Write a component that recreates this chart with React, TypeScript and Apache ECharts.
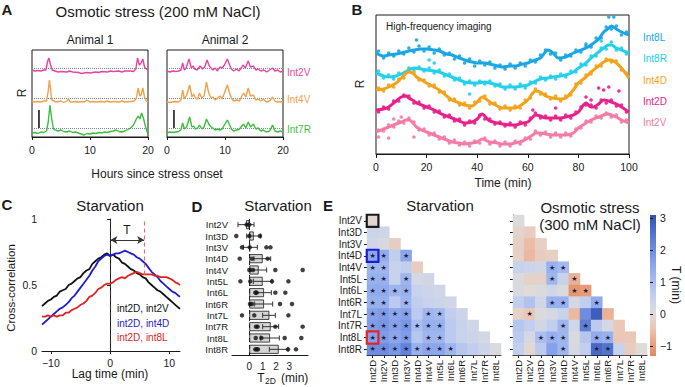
import React, { useEffect, useRef } from 'react';
import * as echarts from 'echarts';

const FONT = '"Liberation Sans", Arial, Helvetica, sans-serif';
const INK = '#1a1a1a';

// ---------------- Panel A ----------------
const A_X_TICKS = [0, 10, 20];
const A_TRACE_NAMES = ['Int2V', 'Int4V', 'Int7R'];
const A_TRACE_COLORS = ['#e8449c', '#f0a24a', '#3cbf3c'];
const A_BASELINES = [6.9, 3.9, 0.9];
const A1_INT2V = [[0,6.7],[0.5,6.6],[1,6.65],[1.5,6.6],[2,6.7],[2.4,6.7],[2.7,7.6],[2.9,7.9],[3.2,7.2],[3.5,6.7],[4,6.6],[4.5,6.5],[5,6.55],[6,6.5],[6.5,6.6],[7,6.5],[8,6.45],[8.5,6.35],[9,6.4],[9.5,6.45],[10,6.4],[11,6.5],[11.5,6.45],[12,6.55],[13,6.5],[13.5,6.6],[14,6.55],[15,6.6],[15.5,6.5],[16,6.6],[17,6.6],[17.5,6.55],[17.9,6.8],[18.2,7.9],[18.5,7.2],[18.8,7.4],[19.1,7.8],[19.4,7.0],[19.7,6.8],[20,6.7]];
const A1_INT4V = [[0,3.6],[0.5,3.5],[1,3.55],[1.5,3.5],[2,3.6],[2.5,3.6],[2.8,4.6],[3.0,5.7],[3.2,4.8],[3.4,3.7],[3.8,3.6],[4.2,3.5],[5,3.6],[5.5,3.45],[6,3.6],[6.3,3.8],[6.6,3.5],[7,3.5],[7.5,3.55],[8,3.5],[8.5,3.55],[9,3.5],[9.5,3.7],[10,3.5],[10.5,3.55],[11,3.5],[12,3.55],[12.5,3.5],[13,3.6],[13.5,3.5],[14,3.55],[15,3.5],[15.5,3.6],[16,3.5],[17,3.55],[17.6,3.6],[18,3.9],[18.3,4.9],[18.6,4.1],[18.8,4.2],[19.1,4.9],[19.4,4.0],[19.7,3.6],[20,3.5]];
const A1_INT7R = [[0,0.4],[0.5,0.45],[1,0.35],[1.5,0.5],[2,0.45],[2.5,0.6],[2.8,1.5],[3.1,3.2],[3.4,1.8],[3.7,0.8],[4,0.7],[4.5,0.6],[5,0.7],[5.5,0.55],[6,0.5],[6.5,0.6],[7,0.45],[7.5,0.5],[8,0.4],[8.5,0.3],[9,0.2],[9.5,0.35],[10,0.3],[10.5,0.4],[11,0.35],[11.5,0.45],[12,0.4],[12.5,0.5],[13,0.45],[13.5,0.55],[14,0.6],[14.5,0.7],[15,0.55],[15.5,0.5],[16,0.6],[16.5,0.75],[17,0.9],[17.5,1.2],[17.9,1.7],[18.3,2.1],[18.6,1.8],[18.9,2.4],[19.2,1.9],[19.5,1.2],[19.8,0.6],[20,0.3]];
const A2_INT2V = [[0,6.6],[0.5,6.5],[1,6.6],[1.5,6.55],[2,6.6],[2.4,6.7],[2.7,7.4],[3.0,6.7],[3.3,6.9],[3.8,7.8],[4.2,6.9],[4.5,7.1],[4.8,6.8],[5.2,6.7],[5.7,7.1],[6.1,6.8],[6.5,7.0],[6.9,7.7],[7.3,7.1],[7.6,6.9],[7.9,6.7],[8.3,6.9],[8.7,6.6],[9.1,7.0],[9.5,6.9],[9.9,7.2],[10.4,7.8],[10.8,7.2],[11.1,6.8],[11.5,6.6],[12,6.8],[12.4,6.6],[12.8,6.9],[13.1,7.2],[13.5,6.9],[14.0,7.6],[14.4,7.0],[14.9,7.1],[15.3,6.7],[15.7,6.8],[16.2,6.6],[16.7,6.7],[17.2,6.5],[17.7,6.7],[18.2,6.9],[18.6,6.6],[19.1,6.7],[19.5,6.5],[20,6.6]];
const A2_INT4V = [[0,3.5],[0.5,3.45],[1,3.5],[1.5,3.55],[2,3.5],[2.4,3.7],[2.7,4.7],[3.0,3.8],[3.4,4.2],[3.9,5.2],[4.3,4.0],[4.6,4.3],[4.9,3.9],[5.3,3.8],[5.6,4.4],[6.0,3.9],[6.4,4.1],[6.8,5.5],[7.2,4.4],[7.6,3.9],[7.9,4.0],[8.3,3.7],[8.7,3.9],[9.1,4.1],[9.5,3.8],[9.9,4.4],[10.4,5.2],[10.8,4.4],[11.1,3.9],[11.5,3.6],[12,3.7],[12.5,3.6],[12.9,4.1],[13.2,4.4],[13.6,4.0],[14.0,4.9],[14.4,4.1],[14.9,4.2],[15.3,3.7],[15.7,3.8],[16.2,3.6],[16.6,3.8],[17.1,3.5],[17.7,3.6],[18.2,4.0],[18.6,3.6],[19.1,3.5],[19.5,3.55],[20,3.5]];
const A2_INT7R = [[0,0.4],[0.5,0.5],[1,0.45],[1.5,0.5],[2,0.55],[2.4,0.7],[2.7,1.4],[3.0,0.8],[3.4,1.0],[3.9,2.0],[4.3,1.0],[4.6,1.1],[4.9,0.8],[5.3,0.9],[5.6,1.2],[6.0,0.8],[6.4,1.0],[6.8,1.8],[7.2,1.3],[7.6,1.0],[7.9,0.9],[8.3,0.7],[8.7,0.8],[9.1,0.7],[9.5,0.8],[9.9,1.2],[10.4,1.7],[10.8,1.2],[11.1,0.8],[11.5,0.6],[12,0.7],[12.5,0.8],[12.9,1.1],[13.2,1.3],[13.6,0.9],[14.0,1.5],[14.4,1.0],[14.9,1.3],[15.3,0.8],[15.7,0.9],[16.2,0.6],[16.6,0.7],[17.1,0.5],[17.7,0.6],[18.2,1.2],[18.6,0.6],[19.1,0.5],[19.5,0.6],[20,0.5]];
const A_SCALE_BAR = [[1.2, 0.9], [1.2, 2.7]];

// ---------------- Panel B ----------------
const B_X_TICKS = [0, 20, 40, 60, 80, 100];
const B_NAMES = ['Int8L', 'Int8R', 'Int4D', 'Int2D', 'Int2V'];
const B_COLORS = ['#1aa6e4', '#22d0ec', '#f2a31b', '#ea1f8a', '#f47ca4'];
const B_LINE_INT8L = [[0,101],[3,98],[5,99],[8,100],[10,101],[13,103],[15,104],[18,105],[20,105],[23,104],[25,103],[28,100],[30,99],[33,96],[35,94],[38,92],[40,91],[43,91],[45,90],[48,88],[50,87],[53,88],[55,88],[58,90],[60,91],[63,94],[65,96],[68,104],[70,101],[72,96],[75,97],[78,101],[80,103],[83,106],[85,109],[88,115],[90,122],[92,126],[93,128],[95,125],[97,122],[100,119]];
const B_LINE_INT8R = [[0,81],[3,78],[5,77],[8,78],[10,80],[13,84],[15,86],[18,85],[20,84],[23,83],[25,82],[28,79],[30,77],[33,74],[35,72],[38,71],[40,71],[43,72],[45,71],[48,69],[50,67],[53,67],[55,67],[58,68],[60,69],[63,73],[65,75],[68,76],[70,77],[73,78],[75,79],[78,82],[80,86],[83,91],[85,96],[88,102],[90,106],[92,109],[93,109],[95,106],[97,104],[100,101]];
const B_LINE_INT4D = [[0,64],[3,65],[5,67],[8,71],[10,76],[12,81],[13,82],[15,80],[16,77],[18,74],[20,71],[23,67],[25,64],[28,58],[30,54],[33,51],[35,49],[38,48],[40,52],[42,57],[44,54],[45,52],[48,48],[50,46],[53,46],[55,46],[58,50],[60,54],[62,61],[63,63],[65,62],[67,58],[70,56],[73,55],[75,56],[78,64],[80,71],[83,77],[85,82],[88,88],[90,92],[92,94],[93,94],[95,91],[97,86],[100,76]];
const B_LINE_INT2D = [[0,44],[3,45],[5,47],[8,53],[10,57],[12,58],[13,56],[15,53],[16,51],[18,49],[20,47],[23,44],[25,41],[28,38],[30,36],[33,33],[35,31],[38,32],[40,35],[42,40],[44,35],[45,33],[48,31],[50,30],[53,29],[55,29],[58,31],[60,32],[62,37],[63,39],[65,38],[67,36],[70,36],[73,36],[75,37],[78,39],[80,42],[82,49],[83,51],[85,47],[86,47],[88,50],[90,54],[92,53],[93,52],[95,50],[97,47],[100,42]];
const B_LINE_INT2V = [[0,22],[3,25],[5,27],[8,30],[10,32],[12,34],[13,34],[15,30],[16,27],[18,24],[20,22],[23,19],[25,17],[28,14],[30,12],[33,11],[35,10],[38,11],[40,12],[42,15],[44,13],[45,12],[48,11],[50,10],[53,10],[55,11],[58,13],[60,16],[62,19],[63,21],[65,21],[67,20],[70,19],[73,19],[75,19],[78,21],[80,26],[83,31],[85,34],[88,37],[90,39],[92,40],[93,39],[95,37],[97,34],[100,31]];
const B_DOT_TIMES = [1,3,5,7,9,11,13,15,17,19,21,23,25,27,29,31,33,35,37,39,41,43,45,47,49,51,53,55,57,59,61,63,65,67,69,71,73,75,77,79,81,83,85,87,89,91,93,95,97,99];
const B_DOTS_INT8L = [103,96,101,98,103,100,106,102,108,103,107,101,105,99,101,95,98,91,95,88,93,89,92,86,89,85,90,86,91,88,94,92,99,104,100,101,94,99,98,104,102,108,107,116,116,127,125,128,119,122];
const B_DOTS_INT8R = [83,76,79,75,81,80,86,84,87,83,86,81,84,78,80,74,76,70,73,69,73,70,73,68,70,65,69,65,70,66,72,71,77,74,78,75,80,77,83,82,90,89,98,98,106,105,112,104,106,100];
const B_DOTS_INT4D = [66,63,69,67,75,76,84,82,74,74,68,69,62,62,54,55,49,51,46,52,53,58,50,51,45,48,44,48,46,54,56,65,60,60,55,58,53,58,59,70,71,79,80,88,88,95,92,93,84,81];
const B_DOTS_INT2D = [42,47,45,53,53,59,58,51,52,46,48,42,43,37,39,33,35,29,33,31,39,35,35,30,32,28,31,27,32,29,36,41,36,38,34,38,34,39,36,42,47,49,49,46,54,51,54,48,49,42];
const B_DOTS_INT2V = [24,23,29,27,33,31,36,32,24,25,19,21,15,17,11,14,9,12,8,13,11,16,10,13,8,12,8,13,10,16,15,23,19,22,17,21,17,21,18,25,26,33,32,38,36,41,37,39,32,34];
const B_OUT_INT8L = [[16,114],[83,110],[92,137],[94,137]];
const B_OUT_INT8R = [[21,94],[23,91],[37,60],[89,113]];
const B_OUT_INT4D: number[][] = [];
const B_OUT_INT2D = [[62,44],[71,46],[83,57],[85,54],[88,66],[90,64],[92,67],[96,63]];
const B_OUT_INT2V = [[1,17],[5,16],[7,35],[10,37],[15,17]];

// ---------------- Panel C ----------------
const C_X_TICKS = [-10, 0, 10];
const C_NAMES = ['int2D, int2V', 'int2D, int4D', 'int2D, int8L'];
const C_COLORS = ['#111111', '#1c1cd6', '#e12424'];
const C_BLACK = [[-11.5,0.34],[-11,0.36],[-10.5,0.38],[-10,0.39],[-9.5,0.41],[-9,0.42],[-8.5,0.45],[-8,0.46],[-7.5,0.47],[-7,0.5],[-6.5,0.51],[-6,0.53],[-5.5,0.55],[-5,0.56],[-4.5,0.59],[-4,0.61],[-3.5,0.62],[-3,0.66],[-2.5,0.68],[-2,0.7],[-1.5,0.71],[-1,0.73],[-0.5,0.74],[0,0.72],[0.5,0.73],[1,0.71],[1.5,0.7],[2,0.67],[2.5,0.66],[3,0.64],[3.5,0.62],[4,0.61],[4.5,0.59],[5,0.58],[5.5,0.56],[6,0.55],[6.5,0.52],[7,0.5],[7.5,0.48],[8,0.46],[8.5,0.45],[9,0.43],[9.5,0.41],[10,0.39],[10.5,0.37],[11,0.35],[11.5,0.33],[11.8,0.32]];
const C_BLUE = [[-11.5,0.2],[-11,0.22],[-10.5,0.24],[-10,0.26],[-9.5,0.28],[-9,0.3],[-8.5,0.32],[-8,0.33],[-7.5,0.35],[-7,0.37],[-6.5,0.4],[-6,0.42],[-5.5,0.45],[-5,0.48],[-4.5,0.51],[-4,0.54],[-3.5,0.57],[-3,0.61],[-2.5,0.64],[-2,0.68],[-1.5,0.7],[-1,0.72],[-0.5,0.73],[0,0.72],[0.5,0.73],[1,0.74],[1.5,0.74],[2,0.75],[2.5,0.76],[3,0.75],[3.5,0.74],[4,0.73],[4.5,0.71],[5,0.7],[5.5,0.68],[6,0.66],[6.5,0.63],[7,0.6],[7.5,0.58],[8,0.56],[8.5,0.53],[9,0.51],[9.5,0.49],[10,0.47],[10.5,0.45],[11,0.44],[11.5,0.42],[11.8,0.41]];
const C_RED = [[-11.5,0.26],[-11,0.26],[-10.5,0.27],[-10,0.26],[-9.5,0.27],[-9,0.26],[-8.5,0.27],[-8,0.27],[-7.5,0.29],[-7,0.29],[-6.5,0.31],[-6,0.32],[-5.5,0.33],[-5,0.35],[-4.5,0.36],[-4,0.38],[-3.5,0.41],[-3,0.42],[-2.5,0.44],[-2,0.47],[-1.5,0.48],[-1,0.5],[-0.5,0.51],[0,0.51],[0.5,0.52],[1,0.54],[1.5,0.55],[2,0.56],[2.5,0.55],[3,0.57],[3.5,0.58],[4,0.59],[4.5,0.6],[5,0.59],[5.5,0.58],[6,0.58],[6.5,0.58],[7,0.58],[7.5,0.57],[8,0.57],[8.5,0.56],[9,0.56],[9.5,0.56],[10,0.55],[10.5,0.54],[11,0.52],[11.5,0.51],[11.8,0.5]];
const C_LAG_T = 5.8;
const C_ARROW_Y = 0.84;
const C_RED_MEET = 0.58;

// ---------------- Panel D ----------------
const D_CATS = ['Int2V','Int3D','Int3V','Int4D','Int4V','Int5L','Int6L','Int6R','Int7L','Int7R','Int8L','Int8R'];
const D_X_TICKS = [0, 1, 2, 3];
const D_MEANS = [-0.25, 0.33, 0.05, 1.0, 0.7, 1.0, 1.1, 1.1, 1.5, 1.6, 1.55, 2.2];
const D_ERR_LO = [-0.85, -0.2, -0.45, 0.35, 0.1, 0.3, 0.5, 0.4, 1.0, 1.0, 0.85, 1.5];
const D_ERR_HI = [0.35, 0.85, 0.6, 1.6, 1.3, 1.7, 1.65, 1.75, 1.95, 2.2, 2.25, 2.9];
const D_ANIMALS = [
  [-0.2, 0.0],
  [-0.98, 0.0, 0.8],
  [-0.55, 0.03, 1.28, 1.58],
  [-0.72, 0.2, 1.38],
  [0.0, 0.27, 1.95, 4.0],
  [-0.67, 0.07, 1.7, 2.93],
  [0.45, 0.55, 1.95, 2.7],
  [0.05, 0.2, 2.3, 3.2],
  [-0.55, 0.37, 2.93],
  [0.5, 0.62, 1.95, 4.0],
  [0.48, 0.9, 2.65, 3.9],
  [0.45, 0.55, 0.65, 2.9, 3.5],
];

// ---------------- Panel E ----------------
const E_ROWS = D_CATS;
const E_COLS = ['Int2D','Int2V','Int3D','Int3V','Int4D','Int4V','Int5L','Int6L','Int6R','Int7L','Int7R','Int8L'];
const E_STARV = [
  [-0.1],
  [0.4, 0.35],
  [0.3, 0.15, -0.3],
  [1.5, 1.4, 0.6, 1.5],
  [1.2, 1.2, 0.5, 0.6, -0.3],
  [1.3, 1.3, 0.5, 1.2, 0.2, 0.3],
  [1.4, 1.4, 1.2, 1.3, 0.5, 0.4, 0.3],
  [1.3, 1.3, 0.7, 1.2, 0.6, 0.5, 0.4, 0.3],
  [1.6, 1.7, 1.5, 1.6, 0.7, 1.2, 1.1, 0.6, 0.4],
  [1.7, 1.8, 1.6, 1.8, 1.0, 1.3, 1.3, 0.7, 0.5, 0.3],
  [1.6, 1.7, 1.5, 1.7, 0.8, 1.2, 1.2, 0.7, 0.5, 0.4, 0.2],
  [2.0, 2.0, 1.8, 2.2, 1.3, 1.5, 1.5, 1.2, 0.8, 0.6, 0.4, 0.1],
];
const E_STARV_SIG = [
  [0],
  [0,0],
  [0,0,0],
  [1,1,0,1],
  [1,1,0,0,0],
  [1,1,0,1,0,0],
  [1,1,1,1,0,0,0],
  [1,1,0,1,0,0,0,0],
  [1,1,1,1,0,1,1,0,0],
  [1,1,1,1,1,1,1,0,0,0],
  [1,1,1,1,0,1,1,0,0,0,0],
  [1,1,1,1,1,1,1,1,0,0,0,0],
];
const E_OSMO = [
  [0.05],
  [-0.15, -0.3],
  [-0.25, -0.55, -0.25],
  [-0.2, -0.6, -0.3, -0.25],
  [0.5, 0.4, 0.3, 1.3, 1.1],
  [0.1, -0.2, -0.2, 1.2, 0.5, -0.7],
  [0.1, 0.0, 0.1, 0.3, 0.1, -1.1, -1.0],
  [0.6, 0.9, 0.3, 1.3, 1.3, 0.2, 0.6, 1.4],
  [-0.2, -0.4, 0.1, 0.2, 0.5, -0.6, 2.0, 2.9, -0.7],
  [0.8, 0.6, 0.3, 0.6, 1.2, 0.3, 2.3, 0.7, 0.2, -0.4],
  [0.7, 0.2, 1.0, 1.3, 1.2, 0.1, 0.8, 1.4, 1.3, -0.4, -0.4],
  [0.6, -0.1, 0.7, 1.6, 1.2, 0.2, 0.6, 2.7, 2.5, 0.5, -0.3, 0.0],
];
const E_OSMO_SIG = [
  [0],
  [0,0],
  [0,0,0],
  [0,0,0,0],
  [0,0,0,1,1],
  [0,0,0,1,0,1],
  [0,0,0,0,0,1,1],
  [0,0,0,1,1,0,0,1],
  [0,1,0,0,0,0,0,0,0],
  [0,0,0,0,1,0,1,0,0,0],
  [0,0,1,1,1,0,0,1,1,0,0],
  [0,0,0,0,1,0,0,1,1,0,0,0],
];
const E_HIGHLIGHTS = [
  { row: 'Int2V', col: 'Int2D', color: '#1a1a1a' },
  { row: 'Int4D', col: 'Int2D', color: '#1c1cd6' },
  { row: 'Int8L', col: 'Int2D', color: '#e12424' },
];
const E_MIN = -1.3;
const E_MAX = 3.1;
const E_CB_TICKS = [3, 2, 1, 0, -1];
const E_COLORS = ['#df8a5e','#eaa585','#ebc6b4','#dddcdb','#c9d3ec','#b0c3ef','#95aeee','#7b98e6','#6282da','#4b6ac8','#3552b0'];

// ---------------- helpers ----------------
const minus = (v: number) => (v < 0 ? '\u2212' + Math.abs(v) : String(v));

function txt(x: number, y: number, text: string, o: any = {}) {
  const align = o.align || 'center';
  const va = o.va || 'middle';
  return {
    type: 'text', x, y, rotation: o.rotation || 0, silent: true,
    style: {
      text, fill: o.color || INK, fontSize: o.size || 12, fontFamily: FONT,
      fontWeight: o.bold ? 'bold' : 'normal',
      align, textAlign: align, verticalAlign: va, textVerticalAlign: va,
    },
  };
}

function heatData(vals: number[][], sig: number[][], highlights: any[]) {
  const plain: any[] = [];
  const boxed: any[] = [];
  vals.forEach((row, r) => row.forEach((v, c) => {
    const item = [c, r, v, sig[r][c]];
    const h = highlights.find((b) => E_ROWS.indexOf(b.row) === r && E_COLS.indexOf(b.col) === c);
    if (h) boxed.push({ value: item, itemStyle: { borderColor: h.color, borderWidth: 2.2 } });
    else plain.push(item);
  }));
  return plain.concat(boxed);
}

const axisLineK = { show: true, lineStyle: { color: INK, width: 1 } };
const tickK = { show: true, length: 3, lineStyle: { color: INK, width: 1 } };
const labelK = { color: INK, fontSize: 10.5, fontFamily: FONT };

function buildOption() {
  const gridBase = { containLabel: false, outerBoundsMode: 'none' };
  const boxed = { show: true, borderColor: INK, borderWidth: 1, backgroundColor: 'transparent' };
  const grid = [
    { ...gridBase, ...boxed, left: 32, top: 50, width: 116, height: 87 },
    { ...gridBase, ...boxed, left: 167, top: 50, width: 116, height: 87 },
    { ...gridBase, ...boxed, left: 376, top: 15, width: 253, height: 139 },
    { ...gridBase, left: 42, top: 219, width: 138, height: 132 },
    { ...gridBase, left: 232, top: 219, width: 76, height: 136 },
    { ...gridBase, left: 367, top: 215, width: 134, height: 140 },
    { ...gridBase, left: 513, top: 215, width: 134, height: 140 },
    { ...gridBase, left: 650, top: 215, width: 6, height: 141 },
  ];

  const aX = (gi: number) => ({
    gridIndex: gi, type: 'value', min: A_X_TICKS[0], max: A_X_TICKS[A_X_TICKS.length - 1], interval: 10,
    axisLine: axisLineK, axisTick: tickK, axisLabel: { ...labelK, margin: 7 }, splitLine: { show: false },
  });
  const heatX = (gi: number) => ({
    gridIndex: gi, type: 'category', data: E_COLS,
    axisLine: axisLineK, axisTick: { ...tickK, alignWithLabel: true },
    axisLabel: { ...labelK, fontSize: 9.5, rotate: 90, margin: 5, interval: 0 }, splitLine: { show: false },
  });
  const xAxis = [
    aX(0), aX(1),
    { gridIndex: 2, type: 'value', min: B_X_TICKS[0], max: B_X_TICKS[B_X_TICKS.length - 1], interval: 20, axisLine: axisLineK, axisTick: { ...tickK, length: 4 }, axisLabel: { ...labelK, margin: 7 }, splitLine: { show: false } },
    { gridIndex: 3, type: 'value', min: -11.5, max: 11.8, axisLine: axisLineK,
      axisTick: { ...tickK, customValues: C_X_TICKS },
      axisLabel: { ...labelK, margin: 6, customValues: C_X_TICKS, formatter: (v: number) => minus(v) }, splitLine: { show: false } },
    { gridIndex: 4, type: 'value', min: -1.3, max: 4.4, axisLine: axisLineK, axisTick: { show: false },
      axisLabel: { ...labelK, fontSize: 10, margin: 6, customValues: D_X_TICKS }, splitLine: { show: false } },
    heatX(5), heatX(6),
    { gridIndex: 7, type: 'value', min: 0, max: 1, show: false },
  ];
  const heatY = (gi: number, showLabel: boolean) => ({
    gridIndex: gi, type: 'category', data: E_ROWS, inverse: true,
    axisLine: axisLineK, axisTick: { ...tickK, alignWithLabel: true },
    axisLabel: { ...labelK, fontSize: 10, margin: 5, show: showLabel, interval: 0 }, splitLine: { show: false },
  });
  const yAxis = [
    { gridIndex: 0, type: 'value', min: 0, max: 8.7, show: false },
    { gridIndex: 1, type: 'value', min: 0, max: 8.7, show: false },
    { gridIndex: 2, type: 'value', min: 0, max: 139, show: false },
    { gridIndex: 3, type: 'value', min: 0, max: 1, interval: 0.5, axisLine: axisLineK, axisTick: tickK,
      axisLabel: { ...labelK, margin: 5 }, splitLine: { show: false } },
    { gridIndex: 4, type: 'category', data: D_CATS, inverse: true, axisLine: { show: false }, axisTick: { show: false },
      axisLabel: { ...labelK, fontSize: 9.5, margin: 4, interval: 0 } },
    heatY(5, true), heatY(6, false),
    { gridIndex: 7, type: 'value', min: E_MIN, max: E_MAX, position: 'right', axisLine: { show: false },
      axisTick: { ...tickK, customValues: E_CB_TICKS },
      axisLabel: { ...labelK, margin: 4, customValues: E_CB_TICKS, formatter: (v: number) => minus(v) }, splitLine: { show: false } },
  ];

  const series: any[] = [];
  // Panel A
  const aSets = [[A1_INT2V, A1_INT4V, A1_INT7R], [A2_INT2V, A2_INT4V, A2_INT7R]];
  aSets.forEach((set, gi) => {
    set.forEach((d, k) => {
      series.push({
        type: 'line', name: A_TRACE_NAMES[k], xAxisIndex: gi, yAxisIndex: gi, data: d, showSymbol: false, silent: true,
        lineStyle: { color: A_TRACE_COLORS[k], width: 1.4 }, itemStyle: { color: A_TRACE_COLORS[k] }, z: 3,
        markLine: { silent: true, symbol: 'none', label: { show: false }, lineStyle: { type: 'dotted', color: '#7a88aa', width: 1 }, data: [{ yAxis: A_BASELINES[k] }], z: 2 },
      });
    });
    series.push({ type: 'line', xAxisIndex: gi, yAxisIndex: gi, data: A_SCALE_BAR, showSymbol: false, silent: true, lineStyle: { color: INK, width: 1.6 } });
  });
  // Panel B
  const bLines = [B_LINE_INT8L, B_LINE_INT8R, B_LINE_INT4D, B_LINE_INT2D, B_LINE_INT2V];
  const bDots = [B_DOTS_INT8L, B_DOTS_INT8R, B_DOTS_INT4D, B_DOTS_INT2D, B_DOTS_INT2V];
  const bOut = [B_OUT_INT8L, B_OUT_INT8R, B_OUT_INT4D, B_OUT_INT2D, B_OUT_INT2V];
  bLines.forEach((d, k) => {
    const dots = B_DOT_TIMES.map((t, i) => [t, bDots[k][i]]).concat(bOut[k]);
    series.push({ type: 'scatter', xAxisIndex: 2, yAxisIndex: 2, data: dots, symbolSize: 3.6, silent: true, itemStyle: { color: B_COLORS[k], opacity: 0.9 } });
    series.push({ type: 'line', xAxisIndex: 2, yAxisIndex: 2, data: d, smooth: 0.3, showSymbol: false, silent: true, lineStyle: { color: B_COLORS[k], width: 3 }, itemStyle: { color: B_COLORS[k] } });
  });
  // Panel C
  const cData = [C_BLACK, C_BLUE, C_RED];
  cData.forEach((d, k) => {
    const s: any = { type: 'line', name: C_NAMES[k], xAxisIndex: 3, yAxisIndex: 3, data: d, showSymbol: false, silent: true,
      lineStyle: { color: C_COLORS[k], width: 1.8 }, itemStyle: { color: C_COLORS[k] } };
    if (k === 0) {
      s.markLine = { silent: true, symbol: 'none', label: { show: false }, data: [
        [{ coord: [0, 0], lineStyle: { type: [4, 3], color: '#333', width: 1.1 } }, { coord: [0, 1], lineStyle: { type: [4, 3], color: '#333', width: 1.1 } }],
        [{ coord: [0.05, C_ARROW_Y], symbol: 'arrow', symbolSize: [6, 7], lineStyle: { type: 'solid', color: '#333', width: 1.1 } },
         { coord: [C_LAG_T - 0.05, C_ARROW_Y], symbol: 'arrow', symbolSize: [6, 7], lineStyle: { type: 'solid', color: '#333', width: 1.1 } }],
      ] };
    }
    if (k === 2) {
      s.markLine = { silent: true, symbol: 'none', label: { show: false }, data: [
        [{ coord: [C_LAG_T, C_RED_MEET], lineStyle: { type: [4, 3], color: '#e86a6a', width: 1.1 } }, { coord: [C_LAG_T, 1], lineStyle: { type: [4, 3], color: '#e86a6a', width: 1.1 } }],
      ] };
    }
    series.push(s);
  });
  // Panel D
  series.push({
    type: 'bar', xAxisIndex: 4, yAxisIndex: 4, data: D_MEANS, barWidth: 9, silent: true,
    itemStyle: { color: '#d6d6d6', borderColor: INK, borderWidth: 0.8 },
    markLine: { silent: true, symbol: 'none', label: { show: false }, lineStyle: { type: [4, 3], color: '#222', width: 1 }, data: [{ xAxis: 0 }] },
  });
  series.push({
    type: 'custom', xAxisIndex: 4, yAxisIndex: 4, silent: true,
    data: D_CATS.map((_, i) => [i, D_ERR_LO[i], D_ERR_HI[i]]),
    encode: { y: 0, x: [1, 2] },
    renderItem: (params: any, api: any) => {
      const c = api.value(0);
      const p1 = api.coord([api.value(1), c]);
      const p2 = api.coord([api.value(2), c]);
      const h = 2.5;
      const st = { stroke: '#333', lineWidth: 1 };
      return { type: 'group', children: [
        { type: 'line', shape: { x1: p1[0], y1: p1[1], x2: p2[0], y2: p2[1] }, style: st },
        { type: 'line', shape: { x1: p1[0], y1: p1[1] - h, x2: p1[0], y2: p1[1] + h }, style: st },
        { type: 'line', shape: { x1: p2[0], y1: p2[1] - h, x2: p2[0], y2: p2[1] + h }, style: st },
      ] };
    },
    z: 4,
  });
  const dDots: any[] = [];
  D_ANIMALS.forEach((arr, i) => arr.forEach((v) => dDots.push([v, i])));
  series.push({ type: 'scatter', xAxisIndex: 4, yAxisIndex: 4, data: dDots, symbolSize: 4.5, silent: true, itemStyle: { color: '#111' }, z: 5 });
  // Panel E
  const heatLabel = { show: true, fontSize: 7, color: '#1d1d3f', fontFamily: 'DejaVu Sans', formatter: (p: any) => (p.value && p.value[3] ? '\u2605' : '') };
  const iStarv = series.length;
  series.push({ type: 'heatmap', xAxisIndex: 5, yAxisIndex: 5, data: heatData(E_STARV, E_STARV_SIG, E_HIGHLIGHTS), label: heatLabel, silent: true, emphasis: { disabled: true }, itemStyle: { borderWidth: 0 } });
  const iOsmo = series.length;
  series.push({ type: 'heatmap', xAxisIndex: 6, yAxisIndex: 6, data: heatData(E_OSMO, E_OSMO_SIG, []), label: heatLabel, silent: true, emphasis: { disabled: true }, itemStyle: { borderWidth: 0 } });
  series.push({ type: 'scatter', xAxisIndex: 7, yAxisIndex: 7, data: [], silent: true });

  const gradient = new echarts.graphic.LinearGradient(0, 1, 0, 0, E_COLORS.map((c, i) => ({ offset: i / (E_COLORS.length - 1), color: c })));

  const graphic = [
    // Panel A
    txt(7, 9, 'A', { size: 15, bold: true }),
    txt(158, 11, 'Osmotic stress (200 mM NaCl)', { size: 15 }),
    txt(90, 40, 'Animal 1', { size: 12 }),
    txt(225, 40, 'Animal 2', { size: 12 }),
    txt(22, 93, 'R', { size: 12, rotation: Math.PI / 2 }),
    txt(287, 72, A_TRACE_NAMES[0], { size: 10, align: 'left', color: A_TRACE_COLORS[0] }),
    txt(287, 99, A_TRACE_NAMES[1], { size: 10, align: 'left', color: A_TRACE_COLORS[1] }),
    txt(287, 129, A_TRACE_NAMES[2], { size: 10, align: 'left', color: A_TRACE_COLORS[2] }),
    txt(157, 174, 'Hours since stress onset', { size: 12 }),
    // Panel B
    txt(357, 9, 'B', { size: 15, bold: true }),
    txt(360, 84, 'R', { size: 12, rotation: Math.PI / 2 }),
    txt(386, 26, 'High-frequency imaging', { size: 10, align: 'left' }),
    ...B_NAMES.map((n, k) => txt(643, [37, 58, 80, 101, 122][k], n, { size: 10, align: 'left', color: B_COLORS[k] })),
    txt(503, 183, 'Time (min)', { size: 12 }),
    // Panel C
    txt(7, 204, 'C', { size: 15, bold: true }),
    txt(110, 205, 'Starvation', { size: 15 }),
    txt(11, 288, 'Cross-correlation', { size: 11.5, rotation: Math.PI / 2 }),
    txt(110, 374, 'Lag time (min)', { size: 12 }),
    txt(127, 230, 'T', { size: 12 }),
    ...C_NAMES.map((n, k) => txt(117, [308, 323, 337][k], n, { size: 10, align: 'left', color: C_COLORS[k] })),
    // Panel D
    txt(197, 206, 'D', { size: 15, bold: true }),
    txt(278, 205, 'Starvation', { size: 15 }),
    txt(261, 378, 'T', { size: 12 }),
    txt(265, 381, '2D', { size: 8.5, align: 'left' }),
    txt(281, 378, '(min)', { size: 12, align: 'left' }),
    // Panel E
    txt(328, 205, 'E', { size: 15, bold: true }),
    txt(440, 205, 'Starvation', { size: 15 }),
    txt(590, 207, 'Osmotic stress', { size: 15 }),
    txt(590, 224, '(300 mM NaCl)', { size: 15 }),
    { type: 'rect', silent: true, shape: { x: 650, y: 215, width: 6, height: 141 }, style: { fill: gradient } },
    txt(676, 285, 'T (min)', { size: 12, rotation: -Math.PI / 2 }),
  ];

  return {
    animation: false,
    backgroundColor: '#ffffff',
    textStyle: { fontFamily: FONT },
    grid, xAxis, yAxis, series, graphic,
    visualMap: { type: 'continuous', show: false, min: E_MIN, max: E_MAX, dimension: 2, seriesIndex: [iStarv, iOsmo], inRange: { color: E_COLORS } },
  };
}

export default function App() {
  const ref = useRef<HTMLDivElement>(null);
  useEffect(() => {
    if (!ref.current) return;
    const chart = echarts.init(ref.current, undefined, { renderer: 'svg' });
    chart.setOption(buildOption() as any);
    return () => chart.dispose();
  }, []);
  return <div ref={ref} style={{ position: 'absolute', left: 0, top: 0, width: 685, height: 387 }} />;
}
